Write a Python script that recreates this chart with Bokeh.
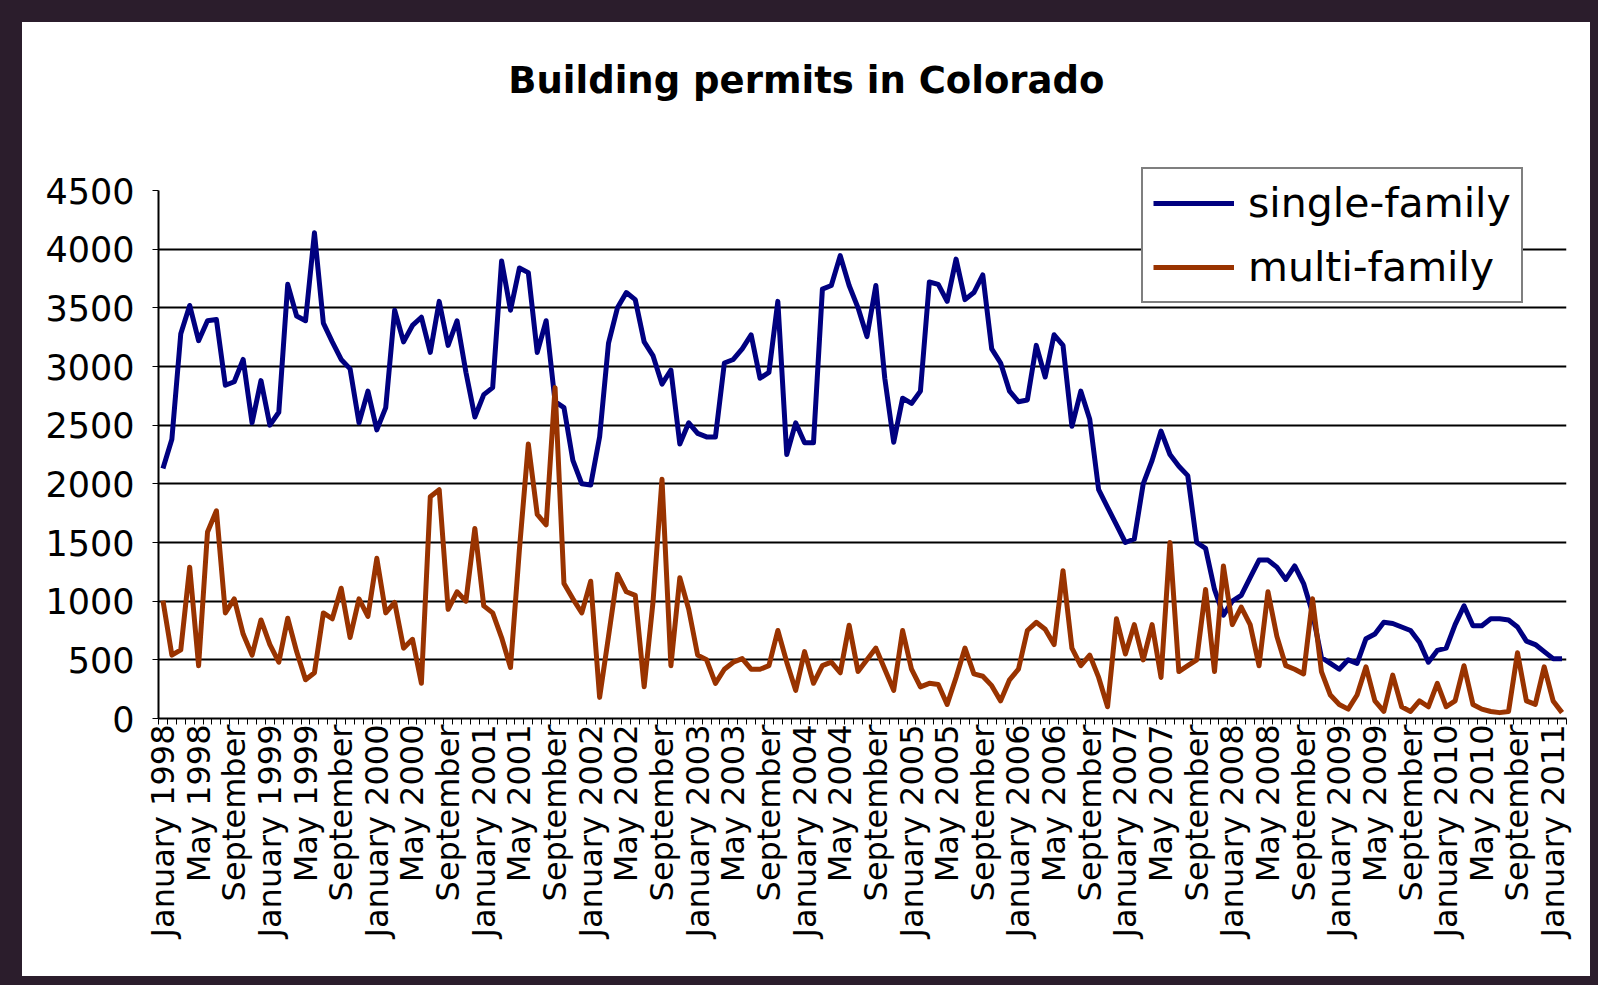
import math
from bokeh.plotting import figure
from bokeh.models import ColumnDataSource, FixedTicker, Legend, LegendItem, Label
from bokeh.embed import file_html
from bokeh.resources import INLINE

# Monthly permits, January 1998 .. February 2011
single_family = [
    2130, 2380, 3280, 3520, 3220, 3390, 3400, 2840, 2870, 3060, 2520, 2880,
    2500, 2610, 3700, 3430, 3390, 4140, 3370, 3210, 3060, 2980, 2520, 2790,
    2460, 2650, 3480, 3210, 3350, 3420, 3120, 3555, 3180, 3390, 2950, 2570,
    2760, 2820, 3900, 3480, 3840, 3800, 3120, 3390, 2700, 2650, 2200, 2000,
    1990, 2400, 3200, 3500, 3630, 3570, 3210, 3090, 2850, 2970, 2340, 2520,
    2430, 2400, 2400, 3030, 3060, 3150, 3270, 2900, 2950, 3555, 2250, 2520,
    2350, 2350, 3660, 3690, 3945, 3690, 3500, 3255, 3690, 2900, 2355, 2730,
    2685, 2790, 3720, 3700, 3555, 3915, 3570, 3630, 3780, 3150, 3030, 2790,
    2700, 2715, 3180, 2910, 3270, 3180, 2490, 2790, 2550, 1950, 1800, 1650,
    1500, 1530, 2000, 2200, 2450, 2250, 2150, 2070, 1500, 1450, 1100, 880,
    1000, 1050, 1200, 1350, 1350, 1290, 1185, 1300, 1150, 900, 520, 470,
    420, 500, 470, 680, 720, 820, 810, 780, 750, 650, 480, 580,
    600, 800, 960, 790, 790, 850, 850, 840, 780, 660, 630, 570,
    510, 510,
]
multi_family = [
    1005, 540, 585, 1290, 450, 1590, 1770, 900, 1020, 720, 540, 840,
    630, 480, 855, 570, 330, 390, 900, 850, 1110, 690, 1020, 870,
    1365, 900, 990, 600, 675, 300, 1890, 1950, 930, 1080, 1000, 1620,
    960, 900, 690, 435, 1440, 2340, 1740, 1650, 2820, 1150, 1020, 900,
    1170, 180, 700, 1230, 1080, 1050, 270, 1000, 2040, 450, 1200, 930,
    540, 500, 300, 420, 480, 510, 420, 420, 450, 750, 480, 240,
    570, 300, 450, 480, 390, 795, 400, 500, 600, 420, 240, 750,
    420, 270, 300, 290, 120, 350, 600, 380, 360, 280, 150, 330,
    420, 750, 820, 760, 630, 1260, 600, 450, 540, 350, 100, 850,
    550, 800, 500, 800, 350, 1500, 400, 450, 500, 1100, 400, 1300,
    800, 950, 800, 450, 1080, 700, 450, 420, 380, 1020, 400, 200,
    120, 80, 200, 440, 150, 60, 370, 100, 60, 150, 100, 300,
    100, 150, 450, 120, 80, 60, 50, 60, 560, 150, 120, 440,
    150, 50,
]
tick_labels = [
    "January 1998", "May 1998", "September",
    "January 1999", "May 1999", "September",
    "January 2000", "May 2000", "September",
    "January 2001", "May 2001", "September",
    "January 2002", "May 2002", "September",
    "January 2003", "May 2003", "September",
    "January 2004", "May 2004", "September",
    "January 2005", "May 2005", "September",
    "January 2006", "May 2006", "September",
    "January 2007", "May 2007", "September",
    "January 2008", "May 2008", "September",
    "January 2009", "May 2009", "September",
    "January 2010", "May 2010", "September",
    "January 2011",
]
y_ticks = [0, 500, 1000, 1500, 2000, 2500, 3000, 3500, 4000, 4500]

n = len(single_family)
assert n == len(multi_family) == 158
months = list(range(n))
label_pos = list(range(0, n, 4))[:len(tick_labels)]

# layout (pixels)
W, H = 1568, 954
left, right, bottom = 136, 24, 258
frame_h = H - bottom               # frame reaches the top of the canvas
data_top = 4500 * frame_h / 528.0  # 4500 sits 528 px above the x axis

p = figure(width=W, height=H, output_backend="svg", toolbar_location=None,
           x_range=(-0.5, n - 0.5), y_range=(0, data_top),
           min_border_left=left, min_border_right=right,
           min_border_top=0, min_border_bottom=bottom)
p.styles = {"background-color": "white"}
p.outline_line_color = None
p.background_fill_color = "white"
p.border_fill_color = "white"

src = ColumnDataSource(dict(x=months, sf=single_family, mf=multi_family))
r1 = p.line("x", "sf", source=src, line_color="#000080", line_width=5, line_join="round")
r2 = p.line("x", "mf", source=src, line_color="#993300", line_width=5, line_join="round")

# x axis
p.xaxis.ticker = FixedTicker(ticks=label_pos, minor_ticks=[i - 0.5 for i in range(n + 1)])
p.xaxis.major_label_overrides = {pos: lab for pos, lab in zip(label_pos, tick_labels)}
p.xaxis.major_label_orientation = math.pi / 2
p.xaxis.major_tick_in = 0
p.xaxis.major_tick_out = 0
p.xaxis.minor_tick_in = 0
p.xaxis.minor_tick_out = 6
p.xaxis.minor_tick_line_color = "black"
p.xaxis.minor_tick_line_width = 1
p.xaxis.major_label_standoff = 0
p.xaxis.major_label_text_font = "DejaVu Sans"
p.xaxis.major_label_text_font_size = "32px"
p.xaxis.major_label_text_color = "black"
p.xaxis.axis_line_color = "black"
p.xaxis.axis_line_width = 2

# y axis
p.yaxis.ticker = FixedTicker(ticks=y_ticks)
p.yaxis.bounds = (0, 4500)
p.yaxis.major_tick_in = 0
p.yaxis.major_tick_out = 6
p.yaxis.major_tick_line_color = "black"
p.yaxis.minor_tick_line_color = None
p.yaxis.major_label_standoff = 18
p.yaxis.major_label_text_font = "DejaVu Sans"
p.yaxis.major_label_text_font_size = "35px"
p.yaxis.major_label_text_color = "black"
p.yaxis.axis_line_color = "black"
p.yaxis.axis_line_width = 2

p.xgrid.visible = False
p.ygrid.ticker = FixedTicker(ticks=y_ticks[1:-1])
p.ygrid.grid_line_color = "black"
p.ygrid.grid_line_width = 2

legend = Legend(items=[LegendItem(label="single-family", renderers=[r1]),
                       LegendItem(label="multi-family", renderers=[r2])],
                location=(983, 415), margin=0,
                label_text_font="DejaVu Sans", label_text_font_size="41px",
                label_text_color="black",
                glyph_width=81, glyph_height=44, label_standoff=14,
                padding=10, spacing=16,
                border_line_color="black", border_line_width=2,
                background_fill_color="white", background_fill_alpha=1)
p.add_layout(legend)

title = Label(x=72.2, y=data_top * (frame_h - 58) / frame_h,
              text="Building permits in Colorado",
              text_align="center", text_baseline="middle",
              text_font="DejaVu Sans", text_font_style="bold",
              text_font_size="37px", text_color="black")
p.add_layout(title)

html = file_html(p, INLINE, title="Building permits in Colorado")
html = html.replace(
    "</head>",
    "<style>html, body { background-color: #2b1d2c; } "
    "body { margin: 0; padding: 22px 0 0 22px; }</style></head>", 1)
open("out.html", "w").write(html)
